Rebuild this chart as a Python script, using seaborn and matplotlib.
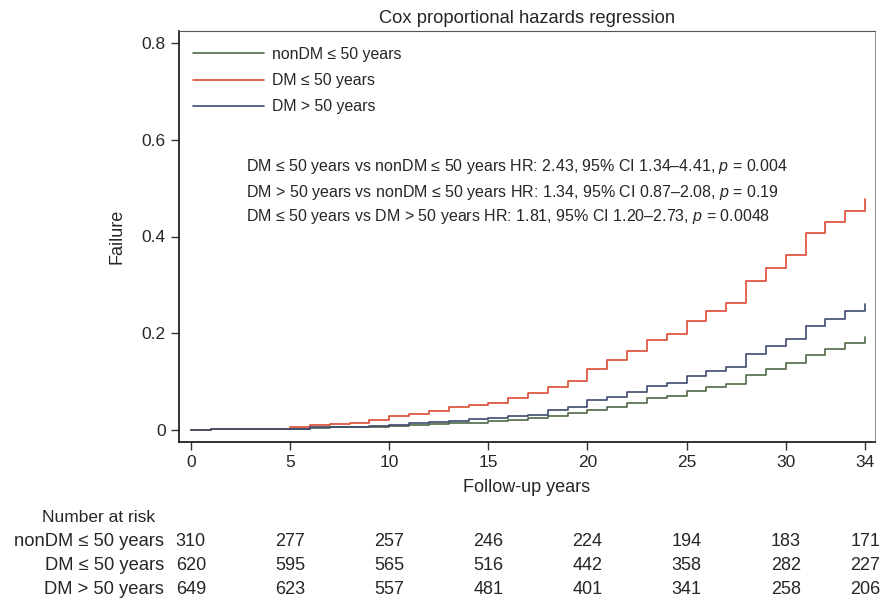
import numpy as np
import pandas as pd
import matplotlib
matplotlib.use("Agg")
import matplotlib.pyplot as plt
import matplotlib.transforms as mtransforms
import seaborn as sns

years = list(range(35))

nondm_le50 = [0.000, 0.001, 0.001, 0.001, 0.001, 0.002, 0.004, 0.005, 0.006, 0.006,
              0.008, 0.010, 0.012, 0.014, 0.015, 0.019, 0.021, 0.024, 0.029, 0.034,
              0.041, 0.048, 0.056, 0.065, 0.070, 0.081, 0.088, 0.095, 0.114, 0.125,
              0.139, 0.155, 0.167, 0.179, 0.192]
dm_le50 = [0.000, 0.001, 0.001, 0.002, 0.002, 0.005, 0.011, 0.012, 0.015, 0.021,
           0.028, 0.033, 0.039, 0.048, 0.051, 0.056, 0.067, 0.077, 0.088, 0.102,
           0.125, 0.145, 0.163, 0.185, 0.198, 0.225, 0.245, 0.262, 0.307, 0.334,
           0.362, 0.407, 0.429, 0.453, 0.477]
dm_gt50 = [0.000, 0.001, 0.001, 0.001, 0.002, 0.002, 0.005, 0.006, 0.007, 0.008,
           0.010, 0.014, 0.016, 0.019, 0.023, 0.025, 0.028, 0.031, 0.041, 0.048,
           0.061, 0.069, 0.079, 0.090, 0.098, 0.112, 0.121, 0.131, 0.157, 0.174,
           0.188, 0.215, 0.229, 0.245, 0.260]

groups = ["nonDM \u2264 50 years", "DM \u2264 50 years", "DM > 50 years"]
colors = ["#4e6b45", "#dc4a32", "#3d4a6e"]

risk_times = [0, 5, 10, 15, 20, 25, 30, 34]
risk_nondm_le50 = [310, 277, 257, 246, 224, 194, 183, 171]
risk_dm_le50 = [620, 595, 565, 516, 442, 358, 282, 227]
risk_dm_gt50 = [649, 623, 557, 481, 401, 341, 258, 206]

hr_lines = [
    "DM \u2264 50 years vs nonDM \u2264 50 years HR: 2.43, 95% CI 1.34\u20134.41, $\\it{p}$ = 0.004",
    "DM > 50 years vs nonDM \u2264 50 years HR: 1.34, 95% CI 0.87\u20132.08, $\\it{p}$ = 0.19",
    "DM \u2264 50 years vs DM > 50 years HR: 1.81, 95% CI 1.20\u20132.73, $\\it{p}$ = 0.0048",
]

df = pd.concat([
    pd.DataFrame({"year": years, "failure": vals, "group": g})
    for g, vals in zip(groups, [nondm_le50, dm_le50, dm_gt50])
])

sns.set_style("ticks")
plt.rcParams["font.family"] = ["Liberation Sans", "DejaVu Sans"]
plt.rcParams["mathtext.fontset"] = "custom"
plt.rcParams["mathtext.rm"] = "Liberation Sans"
plt.rcParams["mathtext.it"] = "Liberation Sans:italic"

fig = plt.figure(figsize=(8.8, 6), dpi=100)
ax = fig.add_axes([179 / 880, 1 - 442 / 600, (875 - 179) / 880, (442 - 31) / 600])

sns.lineplot(data=df, x="year", y="failure", hue="group", hue_order=groups,
             palette=colors, drawstyle="steps-post", linewidth=1.2, ax=ax)

ax.set_xlim(-0.6, 34.5)
ax.set_ylim(-0.025, 0.825)
ax.set_xticks([0, 5, 10, 15, 20, 25, 30, 34])
ax.set_yticks([0, 0.2, 0.4, 0.6, 0.8])
ax.set_yticklabels(["0", "0.2", "0.4", "0.6", "0.8"])
ax.tick_params(axis="both", labelsize=12.5, length=6, width=1, color="#333333", direction="out")
ax.set_xlabel("Follow-up years", fontsize=13, labelpad=6)
ax.set_ylabel("Failure", fontsize=13, labelpad=12)
ax.set_title("Cox proportional hazards regression", fontsize=13.2, pad=6)

for side in ["left", "bottom"]:
    ax.spines[side].set_color("#111111")
    ax.spines[side].set_linewidth(1.2)
ax.spines["top"].set_color("#555555")
ax.spines["right"].set_color("#999999")

handles, labels = ax.get_legend_handles_labels()
ax.legend(handles, labels, frameon=False, loc="upper left",
          bbox_to_anchor=(193 / 880, 1 - 47 / 600), bbox_transform=fig.transFigure,
          borderaxespad=0, borderpad=0, fontsize=11.4, handlelength=4.5,
          handletextpad=0.5, labelspacing=0.7)

for i, line in enumerate(hr_lines):
    fig.text(246 / 880, 1 - (167 + 25 * i) / 600, line, fontsize=11.5, va="center", ha="left")

# number at risk table
trans = mtransforms.blended_transform_factory(ax.transData, fig.transFigure)
fig.text(42 / 880, 1 - 517 / 600, "Number at risk", fontsize=12.5, va="center", ha="left")
rows = [risk_nondm_le50, risk_dm_le50, risk_dm_gt50]
for r, (g, counts) in enumerate(zip(groups, rows)):
    y = 1 - (541 + 24.5 * r) / 600
    fig.text(164 / 880, y, g, fontsize=13.2, va="center", ha="right")
    for t, n in zip(risk_times, counts):
        ax.text(t, y, str(n), transform=trans, fontsize=13, va="center", ha="center")

fig.savefig("out.png", dpi=100)
